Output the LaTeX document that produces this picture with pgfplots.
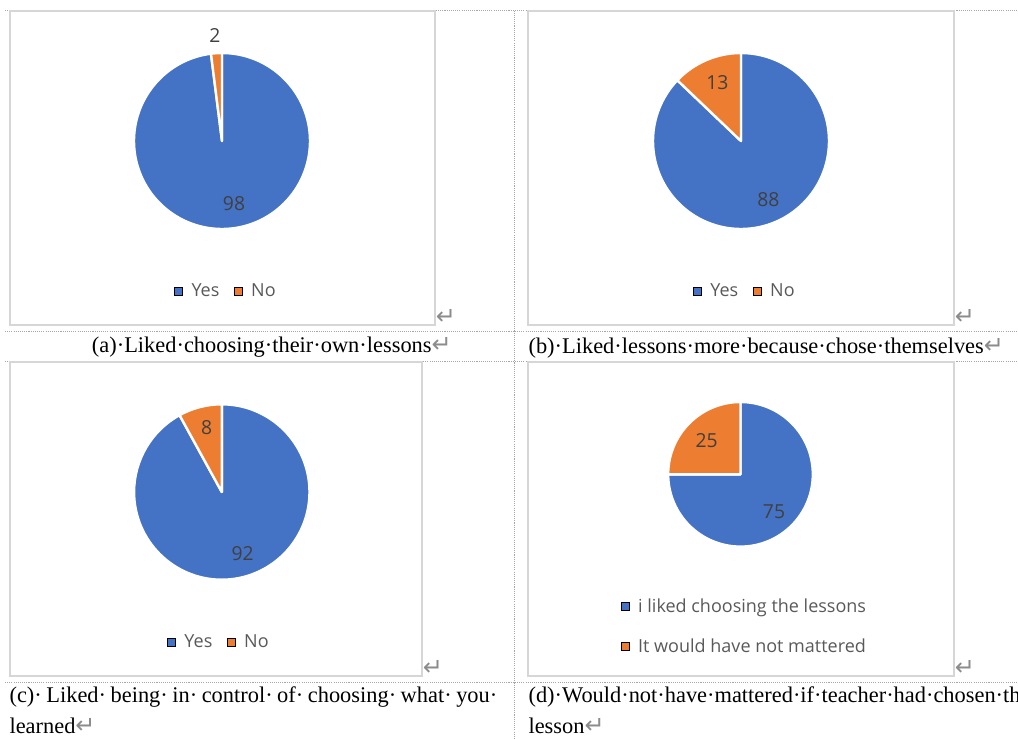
\documentclass[border=0pt]{standalone}
\usepackage{fontspec}
\setmainfont{Liberation Serif}
\newfontfamily\chartfont{Open Sans}
\newfontfamily\markfont{DejaVu Sans}
\usepackage{pgfplots}
\usepackage{pgfplotstable}
\pgfplotsset{compat=1.18}

\definecolor{pieblue}{HTML}{4472C4}
\definecolor{pieorange}{HTML}{ED7D31}
\definecolor{labelgray}{HTML}{404040}
\definecolor{legendgray}{HTML}{595959}
\definecolor{framegray}{HTML}{D6D6D6}
\definecolor{gridgray}{HTML}{A6A6A6}
\definecolor{markgray}{HTML}{8C8C8C}

% survey answers, one table per question
\pgfplotstableread{
label value
Yes 98
No 2
}\dataA
\pgfplotstableread{
label value
Yes 88
No 13
}\dataB
\pgfplotstableread{
label value
Yes 92
No 8
}\dataC
\pgfplotstableread{
label value
Liked 75
Mattered 25
}\dataD

\newcommand{\ret}{{\color{markgray}\markfont\fontsize{18}{18}\selectfont ↵}}
\newcommand{\capfont}{\fontsize{16.8}{20}\selectfont}

% pie from a two-row table: centre (#2,#3), radius #4 (axis units = px),
% label offsets (#5,#6) for the first slice and (#7,#8) for the second
\newcommand{\pie}[8]{%
  \pgfplotstablegetelem{0}{value}\of#1\let\pieA\pgfplotsretval
  \pgfplotstablegetelem{1}{value}\of#1\let\pieB\pgfplotsretval
  \pgfmathsetmacro\pieSplit{90-360*(\pieA/(\pieA+\pieB))}
  \pgfmathsetmacro\pieR{#4*0.75}
  \pgfmathsetmacro\labAx{#2+#5}\pgfmathsetmacro\labAy{#3+#6}
  \pgfmathsetmacro\labBx{#2+#7}\pgfmathsetmacro\labBy{#3+#8}
  \fill[pieblue, draw=white, line width=1.8pt, line join=round]
    (axis cs:#2,#3) -- ++(90:\pieR pt)
    arc[start angle=90, end angle=\pieSplit, radius=\pieR pt] -- cycle;
  \fill[pieorange, draw=white, line width=1.8pt, line join=round]
    (axis cs:#2,#3) -- ++(\pieSplit:\pieR pt)
    arc[start angle=\pieSplit, end angle=-270, radius=\pieR pt] -- cycle;
  \node[labelgray, font=\chartfont\fontsize{14.5}{16}\selectfont, inner sep=0]
    at (axis cs:\labAx,\labAy) {\pieA};
  \node[labelgray, font=\chartfont\fontsize{14.5}{16}\selectfont, inner sep=0]
    at (axis cs:\labBx,\labBy) {\pieB};
}

\pgfplotsset{
  piebox/.style={
    anchor=north west,
    x=0.75pt, y=0.75pt,
    xmin=0, ymin=0, ymax=314,
    ticks=none,
    clip=false,
    axis line style={framegray, line width=1.3pt},
    legend image code/.code={\fill[##1] (0pt,-3pt) rectangle (6pt,3pt);
      \path (10.5pt,0pt);},
    legend style={draw=none, fill=none,
      font=\chartfont\fontsize{13.5}{15}\selectfont,
      text=legendgray, anchor=center,
      /tikz/every even column/.append style={column sep=9pt}},
    legend cell align=left,
  },
}

\begin{document}
\begin{tikzpicture}
\useasboundingbox (0pt,0pt) rectangle (763.5pt,-554.25pt);
\clip (0pt,0pt) rectangle (763.5pt,-554.25pt);

\begin{scope}[x=0.75pt, y=-0.75pt]
  % table grid
  \begin{scope}[gridgray, line width=0.6pt, dash pattern=on 0.8pt off 0.8pt]
    \draw (5,10.5) -- (1018,10.5);
    \draw (5,331.5) -- (1018,331.5);
    \draw (5,361.5) -- (1018,361.5);
    \draw (5,682.5) -- (1018,682.5);
    \draw (514.5,10.5) -- (514.5,739);
  \end{scope}

  % captions
  \node[anchor=base west, inner sep=0, font=\capfont] at (91.7,352.3)
    {(a)·Liked·choosing·their·own·lessons\ret};
  \node[anchor=base west, inner sep=0, font=\capfont] at (528.3,353)
    {(b)·Liked·lessons·more·because·chose·themselves\ret};
  \node[anchor=base west, inner sep=0, font=\capfont] at (9.3,702)
    {\hbox to 365.8pt{(c)·\hfill Liked·\hfill being·\hfill in·\hfill control·\hfill of·\hfill choosing·\hfill what·\hfill you·}};
  \node[anchor=base west, inner sep=0, font=\capfont] at (9.3,733.3)
    {learned\ret};
  \node[anchor=base west, inner sep=0, font=\capfont] at (528.3,702.5)
    {(d)·Would·not·have·mattered·if·teacher·had·chosen·the·};
  \node[anchor=base west, inner sep=0, font=\capfont] at (528.3,733.3)
    {lesson\ret};

  % end-of-cell marks after the charts
  \node[anchor=base west, inner sep=0] at (435.5,324) {\ret};
  \node[anchor=base west, inner sep=0] at (954.5,324) {\ret};
  \node[anchor=base west, inner sep=0] at (422.5,675) {\ret};
  \node[anchor=base west, inner sep=0] at (954.5,675) {\ret};
\end{scope}

% (a)
\begin{axis}[piebox, at={(7.5pt,-8.25pt)}, xmax=425,
  legend columns=2, legend style={at={(0.509,0.107)}}]
  \addlegendimage{fill=pieblue}\addlegendentry{Yes}
  \addlegendimage{fill=pieorange}\addlegendentry{No}
  \pie{\dataA}{212}{184}{88}{12}{-63}{-7}{106}
\end{axis}

% (b)
\begin{axis}[piebox, at={(396pt,-8.25pt)}, xmax=426,
  legend columns=2, legend style={at={(0.510,0.107)}}]
  \addlegendimage{fill=pieblue}\addlegendentry{Yes}
  \addlegendimage{fill=pieorange}\addlegendentry{No}
  \pie{\dataB}{213}{184}{88}{27.3}{-59}{-23.7}{58.7}
\end{axis}

% (c)
\begin{axis}[piebox, at={(7.5pt,-271.5pt)}, xmax=412,
  legend columns=2, legend style={at={(0.508,0.108)}}]
  \addlegendimage{fill=pieblue}\addlegendentry{Yes}
  \addlegendimage{fill=pieorange}\addlegendentry{No}
  \pie{\dataC}{211.8}{184}{87.7}{20.9}{-61.3}{-15.1}{64.3}
\end{axis}

% (d)
\begin{axis}[piebox, at={(396pt,-271.5pt)}, xmax=426,
  legend columns=1, legend style={at={(0.509,0.158)}, row sep=14.3pt}]
  \addlegendimage{fill=pieblue}\addlegendentry{i liked choosing the lessons}
  \addlegendimage{fill=pieorange}\addlegendentry{It would have not mattered}
  \pie{\dataD}{212.5}{201.7}{72.3}{33.5}{-37.4}{-33.8}{33.6}
\end{axis}
\end{tikzpicture}
\end{document}
